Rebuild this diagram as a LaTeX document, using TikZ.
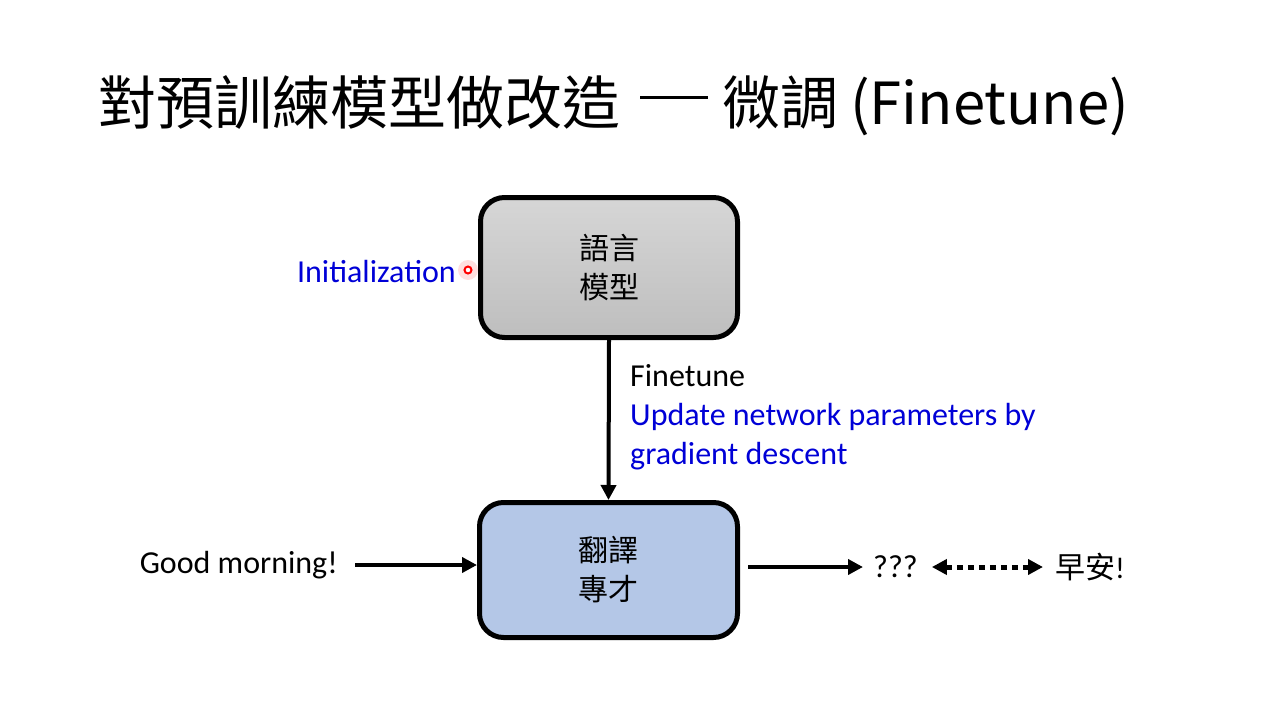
\documentclass[tikz,border=0pt]{standalone}
\usepackage{fontspec}
\setmainfont{Carlito}
\newfontfamily\cjk{Noto Sans CJK TC}
\usetikzlibrary{arrows.meta}
\definecolor{lmtop}{RGB}{214,214,214}
\definecolor{lmbot}{RGB}{190,190,190}
\definecolor{trfill}{RGB}{180,199,231}
\definecolor{noteblue}{RGB}{0,0,215}
\tikzset{
  box/.style={draw=black, line width=5pt, rounded corners=24pt, align=center,
    font=\cjk\fontsize{30}{39}\selectfont, inner sep=0pt},
  lbl/.style={font=\fontsize{32}{38.5}\selectfont, inner sep=0pt},
  bluelbl/.style={lbl, text=noteblue},
  conn/.style={line width=4pt, -{Triangle[length=15pt,width=15pt]}},
  dotconn/.style={line width=5pt, dash pattern=on 6pt off 5pt,
    {Triangle[length=15pt,width=15pt]}-{Triangle[length=15pt,width=15pt]}},
}
\begin{document}
\begin{tikzpicture}[x=1pt,y=-1pt]
\path[use as bounding box, fill=white] (0,0) rectangle (1280,720);
% title
\node[anchor=base west, inner sep=0pt, font=\cjk\fontsize{58}{62}\selectfont] (title) at (98,124)
  {對預訓練模型做改造\hspace{20pt}\rule[25.5pt]{68pt}{3pt}\hspace{14pt}微調\hspace{12pt}(Finetune)};
% boxes
\node[box, top color=lmtop, bottom color=lmbot, minimum width=257pt, minimum height=140pt] (lm) at (609,267.5) {語言\\模型};
\node[box, fill=trfill, minimum width=258pt, minimum height=135pt] (tr) at (608.5,570) {翻譯\\專才};
% finetune arrow
\draw[conn] (lm.south) -- (tr.north);
\node[lbl, anchor=base west] (ft) at (630,386) {Finetune};
\node[bluelbl, anchor=base west, align=left] (upd) at (630,464) {Update network parameters by\\gradient descent};
% initialization
\node[bluelbl, anchor=base east] (init) at (456,282) {Initialization};
\fill[red, opacity=0.12] (468,270) circle (10pt);
\draw[red, line width=2pt, fill=white] (468,270) circle (3.5pt);
% bottom row
\node[lbl, anchor=east] (gm) at (338,565) {Good morning!};
\coordinate (gmend) at (355,565);
\draw[conn] (gmend) -- (tr.west |- gmend);
\node[lbl, anchor=west] (q) at (873,567) {???};
\coordinate (trout) at ([xshift=8pt]tr.east |- q.west);
\draw[conn] (trout) -- ([xshift=-10pt]q.west);
\node[anchor=west, inner sep=0pt, font=\cjk\fontsize{30}{36}\selectfont] (za) at (1055,567) {早安\textrm{!}};
\draw[dotconn] ([xshift=14pt]q.east) -- ([xshift=-12pt]za.west);
\end{tikzpicture}
\end{document}
